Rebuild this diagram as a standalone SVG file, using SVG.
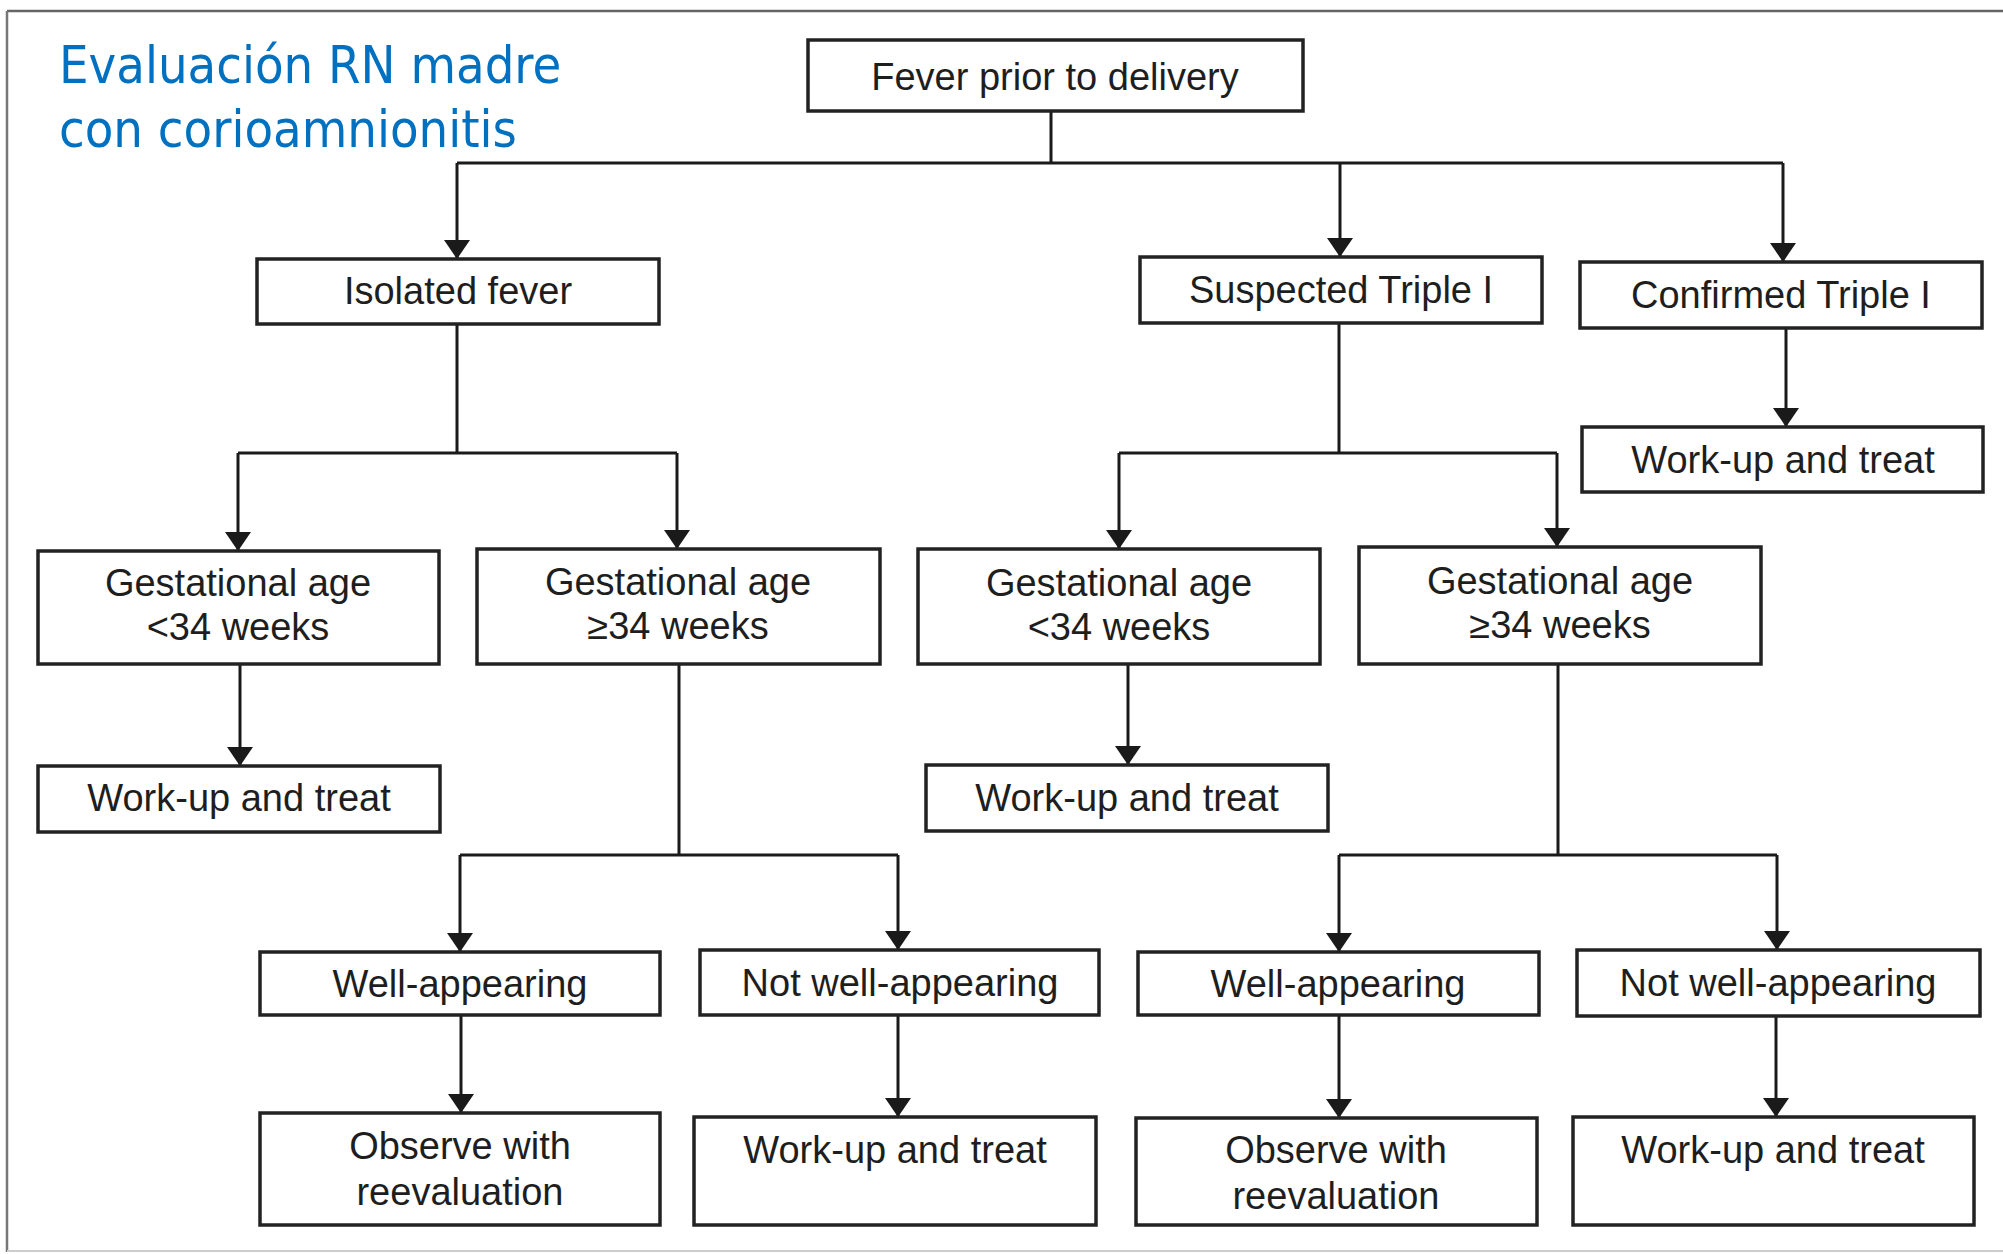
<svg xmlns="http://www.w3.org/2000/svg" width="2003" height="1254" viewBox="0 0 2003 1254">
<defs>
<marker id="arr" markerUnits="userSpaceOnUse" markerWidth="20" markerHeight="28" viewBox="0 -14 20 28" refX="19" refY="0" orient="auto">
<path d="M0,-13 L19,0 L0,13 z" fill="#1a1a1a"/>
</marker>
</defs>
<style>
.box{fill:#fff;stroke:#222;stroke-width:3.5}
.t{font-family:"Liberation Sans",Arial,sans-serif;font-size:38px;fill:#1e1e1e;text-anchor:middle}
.c{fill:none;stroke:#1a1a1a;stroke-width:3}
.title{font-family:"DejaVu Sans Condensed","DejaVu Sans",sans-serif;font-stretch:condensed;font-size:52px;fill:#0070C0}
</style>
<rect x="0" y="0" width="2003" height="1254" fill="#fff"/>
<g id="frame">
<line x1="7" y1="11" x2="2003" y2="11" stroke="#666" stroke-width="2.5"/>
<line x1="7" y1="11" x2="7" y2="1252" stroke="#777" stroke-width="2.5"/>
<line x1="7" y1="1251" x2="2003" y2="1251" stroke="#ccc" stroke-width="2"/>
</g>
<g id="title">
<text class="title" x="59" y="83">Evaluación RN madre</text>
<text class="title" x="59" y="147">con corioamnionitis</text>
</g>
<g id="connectors">
<path class="c" d="M1051,111 V163 M457,163 H1783"/>
<path class="c" d="M457,163 V259" marker-end="url(#arr)"/>
<path class="c" d="M1340,163 V257" marker-end="url(#arr)"/>
<path class="c" d="M1783,163 V262" marker-end="url(#arr)"/>
<path class="c" d="M1786,328 V427" marker-end="url(#arr)"/>
<path class="c" d="M457,324 V453 M238,453 H677"/>
<path class="c" d="M238,453 V551" marker-end="url(#arr)"/>
<path class="c" d="M677,453 V549" marker-end="url(#arr)"/>
<path class="c" d="M1339,323 V453 M1119,453 H1557"/>
<path class="c" d="M1119,453 V549" marker-end="url(#arr)"/>
<path class="c" d="M1557,453 V547" marker-end="url(#arr)"/>
<path class="c" d="M240,664 V766" marker-end="url(#arr)"/>
<path class="c" d="M679,664 V855 M460,855 H898"/>
<path class="c" d="M460,855 V952" marker-end="url(#arr)"/>
<path class="c" d="M898,855 V950" marker-end="url(#arr)"/>
<path class="c" d="M1128,664 V765" marker-end="url(#arr)"/>
<path class="c" d="M1558,664 V855 M1339,855 H1777"/>
<path class="c" d="M1339,855 V952" marker-end="url(#arr)"/>
<path class="c" d="M1777,855 V950" marker-end="url(#arr)"/>
<path class="c" d="M461,1015 V1113" marker-end="url(#arr)"/>
<path class="c" d="M898,1015 V1117" marker-end="url(#arr)"/>
<path class="c" d="M1339,1015 V1118" marker-end="url(#arr)"/>
<path class="c" d="M1776,1016 V1117" marker-end="url(#arr)"/>
</g>
<g id="n-fever"><rect class="box" x="808" y="40" width="495" height="71"/><text class="t" x="1055" y="90">Fever prior to delivery</text></g>
<g id="n-isolated"><rect class="box" x="257" y="259" width="402" height="65"/><text class="t" x="458" y="304">Isolated fever</text></g>
<g id="n-suspected"><rect class="box" x="1140" y="257" width="402" height="66"/><text class="t" x="1341" y="303">Suspected Triple I</text></g>
<g id="n-confirmed"><rect class="box" x="1580" y="262" width="402" height="66"/><text class="t" x="1781" y="308">Confirmed Triple I</text></g>
<g id="n-workup-tr"><rect class="box" x="1582" y="427" width="401" height="65"/><text class="t" x="1783" y="473">Work-up and treat</text></g>
<g id="n-ga-lt34-l"><rect class="box" x="38" y="551" width="401" height="113"/><text class="t" x="238" y="596">Gestational age</text><text class="t" x="238" y="640">&lt;34 weeks</text></g>
<g id="n-ga-ge34-l"><rect class="box" x="477" y="549" width="403" height="115"/><text class="t" x="678" y="595">Gestational age</text><text class="t" x="678" y="639">≥34 weeks</text></g>
<g id="n-ga-lt34-m"><rect class="box" x="918" y="549" width="402" height="115"/><text class="t" x="1119" y="596">Gestational age</text><text class="t" x="1119" y="640">&lt;34 weeks</text></g>
<g id="n-ga-ge34-r"><rect class="box" x="1359" y="547" width="402" height="117"/><text class="t" x="1560" y="594">Gestational age</text><text class="t" x="1560" y="638">≥34 weeks</text></g>
<g id="n-workup-l"><rect class="box" x="38" y="766" width="402" height="66"/><text class="t" x="239" y="811">Work-up and treat</text></g>
<g id="n-workup-m"><rect class="box" x="926" y="765" width="402" height="66"/><text class="t" x="1127" y="811">Work-up and treat</text></g>
<g id="n-well-l"><rect class="box" x="260" y="952" width="400" height="63"/><text class="t" x="460" y="997">Well-appearing</text></g>
<g id="n-notwell-l"><rect class="box" x="700" y="950" width="399" height="65"/><text class="t" x="900" y="996">Not well-appearing</text></g>
<g id="n-well-r"><rect class="box" x="1138" y="952" width="401" height="63"/><text class="t" x="1338" y="997">Well-appearing</text></g>
<g id="n-notwell-r"><rect class="box" x="1577" y="950" width="403" height="66"/><text class="t" x="1778" y="996">Not well-appearing</text></g>
<g id="n-observe-l"><rect class="box" x="260" y="1113" width="400" height="112"/><text class="t" x="460" y="1159">Observe with</text><text class="t" x="460" y="1205">reevaluation</text></g>
<g id="n-workup-bl"><rect class="box" x="694" y="1117" width="402" height="108"/><text class="t" x="895" y="1163">Work-up and treat</text></g>
<g id="n-observe-r"><rect class="box" x="1136" y="1118" width="401" height="107"/><text class="t" x="1336" y="1163">Observe with</text><text class="t" x="1336" y="1209">reevaluation</text></g>
<g id="n-workup-br"><rect class="box" x="1573" y="1117" width="401" height="108"/><text class="t" x="1773" y="1163">Work-up and treat</text></g>
</svg>
